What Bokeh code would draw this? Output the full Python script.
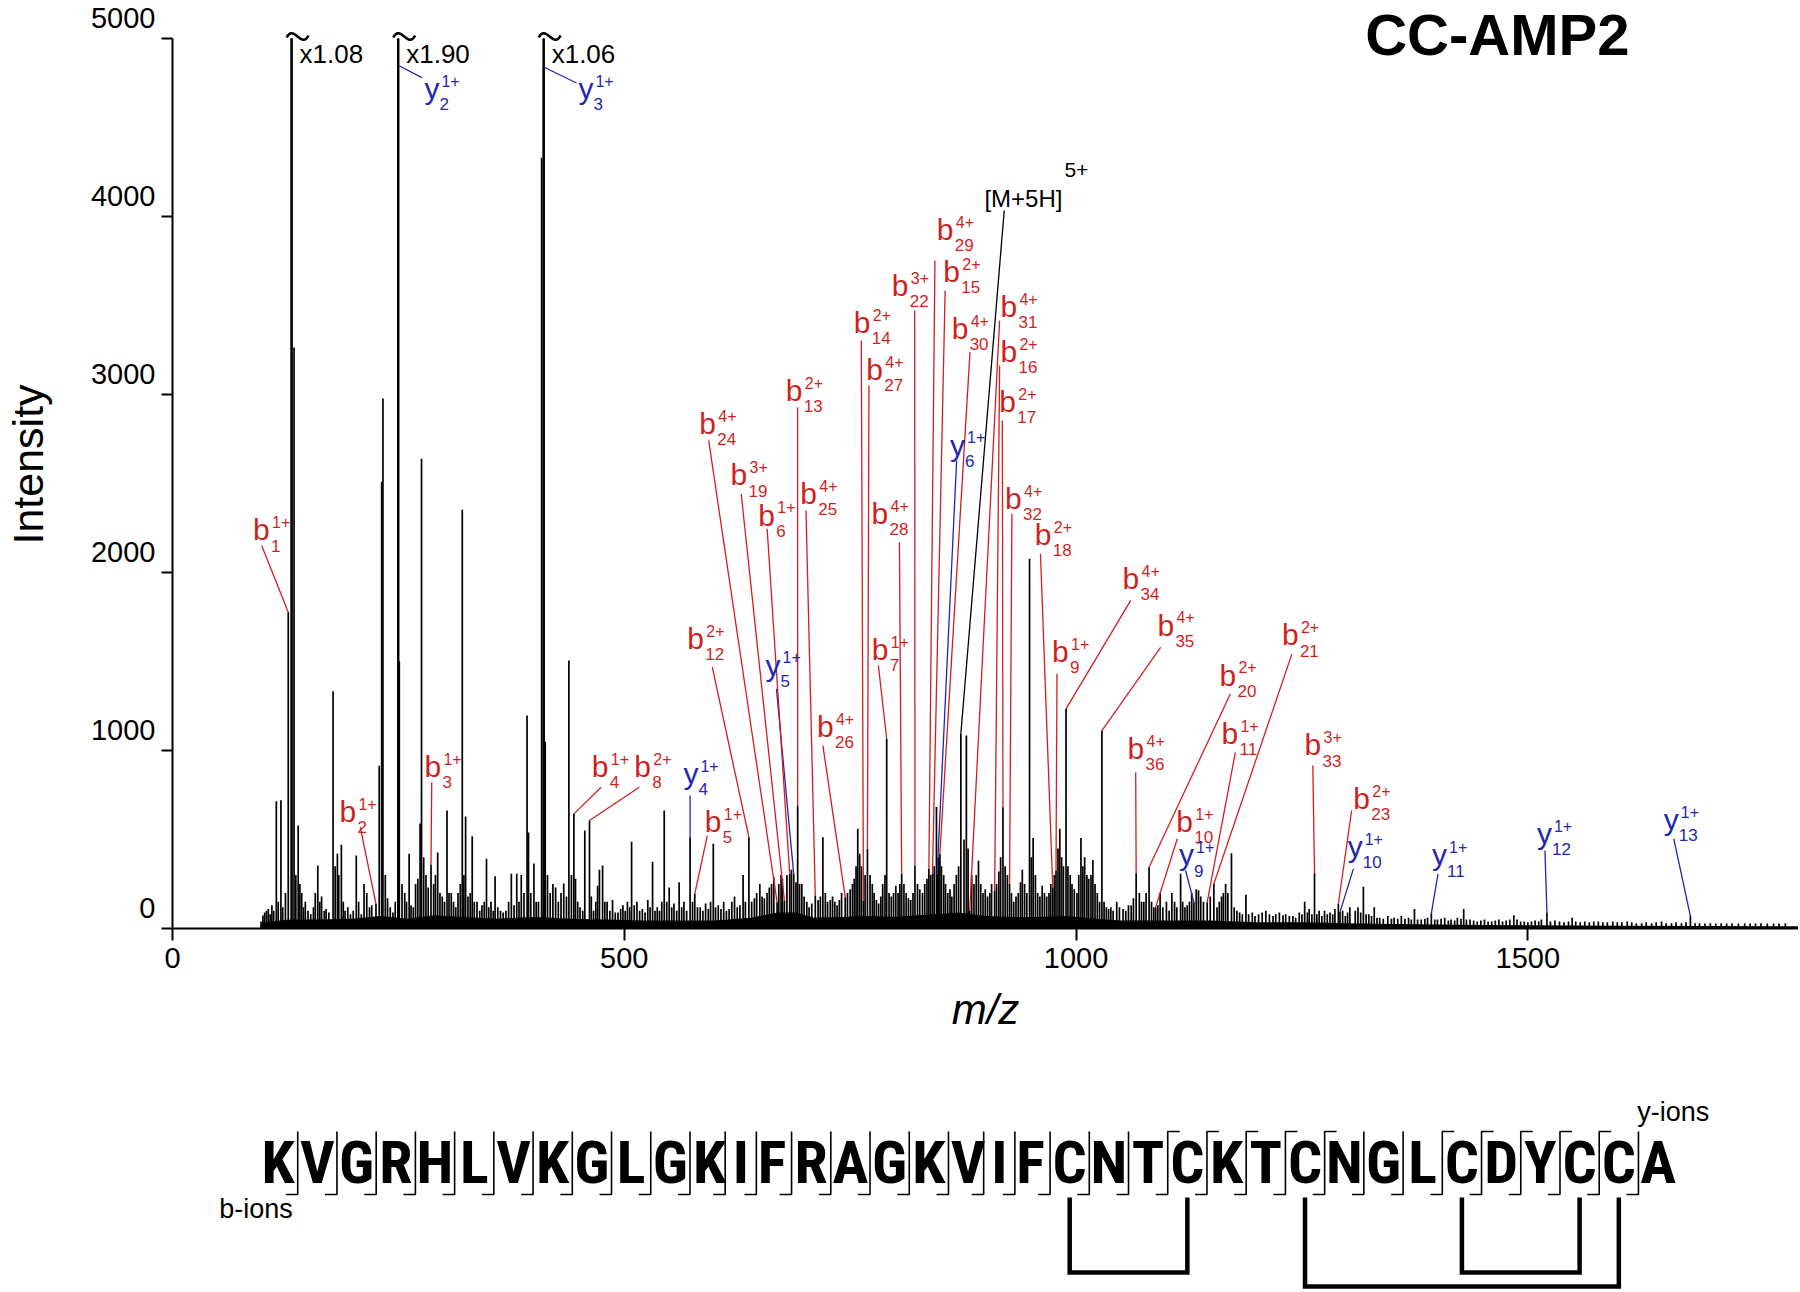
import subprocess
from bokeh.plotting import figure
from bokeh.models import Range1d, LinearAxis, FixedTicker, ColumnDataSource
from bokeh.layouts import column
from bokeh.core.properties import value
from bokeh.embed import file_html
from bokeh.resources import INLINE

# ------------------------------------------------------------------ data
x_ticks = [0, 500, 1000, 1500]
y_ticks = [0, 1000, 2000, 3000, 4000, 5000]
CLIP = 5000  # peaks above this are drawn broken with a scale factor

mz_a = [98, 100.1, 102, 104, 106, 108, 110, 112, 114.9, 117, 120.0, 122, 125, 131.8, 134.5, 136.5, 139.1, 141, 143, 145,
        147, 150, 153, 156, 158, 160.8, 163, 165, 168, 170, 173, 177.7, 180, 182.5, 184, 186.9, 189, 191, 194, 197,
        200, 203.4, 206, 209, 212, 215, 218, 220.5, 228.8, 231.5, 232.9, 235.5, 238, 241, 244, 246.5, 249.8, 251.0, 254, 257,
        259, 261.9, 264, 266.5, 269, 271.5, 274, 275.6, 278, 280.5, 283, 289, 291, 293.5, 296, 298.5]
int_a = [40, 73, 90, 100, 110, 80, 130, 100, 715, 150, 720, 120, 200, 5400, 3264, 300, 578, 250, 200, 120,
         150, 100, 80, 120, 200, 354, 150, 180, 100, 110, 90, 1333, 350, 420, 300, 470, 150, 100, 120, 80,
         100, 410, 150, 80, 250, 200, 120, 130, 915, 2510, 2977, 300, 170, 120, 90, 150, 9500, 1502, 250, 200,
         150, 420, 130, 120, 250, 280, 590, 2639, 400, 300, 230, 250, 300, 427, 200, 180]

mz_b = [301, 303.8, 306, 308.5, 311, 313.5, 316, 318.5, 320.7, 322.5, 324.4, 327, 329.5, 331.7, 334, 337, 340, 342.5, 345, 347.5,
        350, 352.5, 355, 357, 360, 363, 366, 369, 372, 375, 378, 381, 383.5, 386, 389, 392.4, 394, 396.5, 400, 402.5,
        405, 408.5, 410.8, 412.5, 415, 418, 421, 424, 427, 430, 433, 436, 438.7, 441.5, 446, 448.5, 451, 454, 456.3, 463.5,
        466, 468.5, 470.5, 472.5, 476, 478.5, 481, 484, 487, 490, 493, 496, 498.5, 501, 503.5, 506, 508.1, 511, 514, 517,
        520, 523, 526, 528.5, 531.3, 534, 536.5, 539, 541.5, 544.2, 547]
int_b = [150, 663, 200, 200, 150, 120, 200, 250, 2352, 300, 629, 180, 200, 518, 150, 150, 100, 130, 150, 392,
         120, 150, 100, 294, 120, 100, 90, 100, 150, 307, 130, 307, 150, 300, 200, 1196, 540, 200, 365, 150,
         150, 4330, 5300, 1050, 300, 200, 250, 230, 150, 200, 253, 180, 1506, 300, 280, 150, 120, 100, 551, 180,
         100, 150, 240, 330, 354, 150, 150, 100, 160, 90, 90, 110, 130, 100, 150, 120, 487, 130, 150, 100,
         110, 90, 160, 120, 375, 100, 120, 100, 150, 663, 150]

mz_c = [549.7, 552.5, 555, 558, 560.7, 563.5, 566, 569, 575.5, 581, 584, 587, 590, 593, 595.5, 598.5, 601, 604, 607, 610,
        613, 616, 619, 622, 625, 628, 631.5, 634, 641, 644, 646.5, 650, 652.5, 655, 658, 660.5, 663, 665.5, 671, 673.5,
        675, 680, 685, 690, 694, 696.5, 699, 702, 704.5, 707.5, 714.5, 717, 719.8, 722.5, 725, 728, 730.5, 733, 735.5, 738,
        740.5, 747, 750, 752.5, 754.5, 756.5, 758.4, 760.5, 762.5, 766.5, 772, 774.5, 776.5, 779, 781.5, 784, 786, 788.5, 793, 795.5,
        798, 800.5]
int_c = [230, 120, 140, 100, 260, 120, 150, 100, 150, 120, 120, 100, 140, 110, 150, 476, 120, 130, 110, 150,
         100, 110, 150, 180, 120, 130, 300, 150, 150, 170, 200, 250, 180, 170, 200, 230, 250, 290, 250, 300,
         280, 300, 330, 260, 250, 250, 180, 150, 120, 140, 160, 180, 513, 200, 150, 160, 180, 150, 130, 160,
         200, 200, 220, 250, 280, 350, 560, 420, 350, 300, 300, 250, 200, 160, 140, 180, 250, 300, 200, 180,
         200, 240]

mz_d = [803, 805, 809.5, 812, 814.5, 817, 819.5, 824.5, 827, 830, 832.5, 835, 839, 843, 845.5, 847.5, 851, 853.5, 855.5, 858,
        860.5, 862.5, 865, 867.5, 870, 876, 878.6, 880.5, 884.5, 887, 889.5, 892, 894.5, 897, 899.5, 902, 904.5, 906.5, 912, 914.5,
        916.5, 921.5, 924, 928.5, 931, 933.5, 936, 938.5, 940.5, 943, 945.5, 948.5, 950.5, 952.5, 955, 957.5, 960, 962.5, 965, 967.5,
        970, 972, 976, 980, 982, 984, 986, 991, 993.5, 995.5, 998, 1001, 1003, 1005.4, 1007.5, 1009.5, 1012, 1014, 1016.5, 1018.6,
        1021, 1023.5, 1026, 1031, 1033.5, 1036, 1038.5, 1041, 1045, 1048, 1052, 1055, 1058, 1061, 1063.5, 1070, 1072.5, 1075, 1077.5, 1083.5,
        1086, 1090.5, 1093, 1096, 1100]
int_d = [200, 250, 250, 200, 170, 160, 200, 250, 220, 200, 250, 280, 300, 350, 682, 400, 350, 300, 250, 200,
         220, 180, 250, 300, 350, 500, 1084, 450, 300, 250, 300, 380, 250, 200, 220, 180, 200, 250, 250, 320,
         400, 350, 300, 200, 150, 180, 200, 260, 330, 250, 200, 2077, 400, 508, 300, 200, 180, 240, 200, 180,
         200, 250, 300, 450, 560, 400, 350, 350, 300, 250, 220, 200, 300, 508, 350, 400, 300, 280, 300, 385,
         250, 200, 150, 150, 120, 110, 120, 100, 150, 120, 110, 100, 130, 130, 170, 200, 150, 150, 200, 150,
         120, 130, 200, 120, 150]

mz_e = [1103, 1106, 1109, 1111.5, 1115.7, 1118, 1120.5, 1123, 1125.5, 1128, 1133, 1135.5, 1138, 1141, 1148.5, 1156, 1158.5, 1161, 1163, 1165.5,
        1168, 1172, 1175, 1178, 1181, 1184, 1188, 1191, 1195, 1198, 1202, 1206, 1210, 1214, 1218, 1221, 1225, 1229, 1232, 1236,
        1240, 1243, 1247, 1250, 1253, 1256, 1258, 1261, 1266.5, 1269, 1272, 1275, 1278, 1281, 1284, 1286.5, 1295, 1298, 1300.5, 1303,
        1309, 1312, 1315, 1318, 1321, 1324, 1327, 1330, 1333, 1336, 1340, 1345, 1349, 1352, 1356, 1360, 1364, 1368, 1371, 1374.5,
        1378, 1382, 1386, 1389, 1397, 1400, 1404, 1408, 1412, 1415, 1419, 1422, 1426, 1429, 1432, 1436, 1440, 1444, 1448, 1452,
        1456, 1460, 1464, 1468, 1472, 1476, 1480, 1484.5, 1488, 1492, 1496, 1500, 1504, 1508, 1512, 1515, 1525, 1530, 1535, 1540,
        1545, 1549, 1553, 1558, 1563, 1568, 1573, 1578, 1583, 1588, 1594, 1599, 1604, 1610, 1615, 1620, 1626, 1631, 1637, 1642,
        1648, 1653, 1659, 1664, 1670, 1675, 1685, 1690, 1696, 1702, 1708, 1714, 1720, 1726, 1733, 1740, 1746, 1752, 1758, 1765,
        1772, 1778, 1785]
int_e = [100, 200, 150, 120, 307, 150, 120, 130, 150, 200, 220, 215, 180, 150, 180, 120, 150, 180, 200, 250,
         200, 423, 120, 100, 90, 80, 190, 80, 90, 70, 80, 90, 100, 80, 70, 80, 90, 75, 80, 70,
         70, 60, 90, 80, 150, 90, 110, 80, 80, 100, 70, 100, 80, 90, 80, 110, 100, 70, 90, 120,
         100, 120, 90, 235, 80, 80, 70, 120, 60, 60, 55, 70, 55, 60, 55, 70, 55, 60, 50, 110,
         50, 50, 55, 60, 50, 50, 55, 60, 45, 50, 45, 60, 55, 110, 50, 50, 45, 40, 45, 50,
         40, 40, 45, 50, 40, 45, 50, 75, 50, 40, 40, 35, 40, 45, 40, 50, 40, 45, 40, 35,
         40, 60, 40, 35, 40, 35, 40, 40, 35, 35, 40, 35, 35, 40, 35, 30, 30, 35, 30, 35,
         40, 30, 30, 35, 30, 35, 30, 30, 28, 30, 28, 30, 28, 30, 28, 30, 28, 28, 30, 28,
         28, 28, 30]

# baseline noise floor (m/z, intensity)
grass_mz = [97, 100, 130, 160, 200, 230, 260, 290, 320, 360, 400, 440, 480, 520, 560, 600, 640, 670, 690, 710,
            740, 770, 800, 840, 870, 900, 930, 960, 990, 1020, 1050, 1080, 1110, 1150, 1200, 1250, 1300, 1350, 1400, 1450,
            1500, 1600, 1700, 1800]
grass_int = [0, 35, 50, 50, 55, 70, 55, 75, 65, 55, 65, 55, 50, 45, 45, 45, 60, 90, 90, 60,
             65, 70, 65, 80, 90, 70, 65, 65, 70, 55, 45, 45, 45, 45, 35, 35, 30, 25, 22, 20,
             18, 16, 14, 12]

# annotated fragment ions
ion_series = ["b", "b", "b", "b", "b", "y", "b", "b", "y", "b", "b", "b", "b", "b", "b", "b", "b", "b", "b", "b",
              "b", "b", "b", "y", "b", "b", "b", "b", "b", "b", "b", "b", "b", "b", "b", "y", "b", "b", "b", "b",
              "y", "y", "y", "y", "y", "y"]
ion_number = [1, 2, 3, 4, 8, 4, 5, 12, 5, 24, 19, 6, 13, 25, 26, 14, 27, 28, 7, 22,
              29, 15, 30, 6, 31, 16, 17, 32, 18, 9, 34, 35, 36, 20, 10, 9, 11, 21, 33, 23,
              10, 11, 12, 13, 2, 3]
ion_charge = [1, 1, 1, 1, 2, 1, 1, 2, 1, 4, 3, 1, 2, 4, 4, 2, 4, 4, 1, 3,
              4, 2, 4, 1, 4, 2, 2, 4, 2, 1, 4, 4, 4, 2, 1, 1, 1, 2, 3, 2,
              1, 1, 1, 1, 1, 1]
ion_mz = [128.1, 225.2, 286.1, 444.2, 461.5, 572.8, 578.0, 637.9, 687.5, 669.1, 677.2, 683.1, 691.9, 711.4, 744.5, 764.7, 769.1, 807.0, 790.4, 821.7,
          837.1, 841.1, 849.3, 846.3, 882.3, 909.9, 919.1, 926.4, 974.2, 977.8, 988.9, 1028.6, 1066.5, 1080.8, 1088.1, 1130.4, 1145.1, 1152.5, 1263.9, 1290.3,
          1292.1, 1393.2, 1521.1, 1679.9, 249.8, 410.8]
ion_int = [1777, 139, 360, 644, 607, 513, 195, 513, 307, 148, 157, 307, 691, 185, 176, 157, 448, 307, 1066, 354,
           335, 307, 420, 307, 101, 213, 681, 251, 232, 326, 1234, 1112, 310, 344, 120, 148, 148, 251, 311, 139,
           92, 85, 90, 70, 4850, 4840]
# label anchor (left / baseline of the ion letter) and leader start, in data units
label_mz = [89.1, 184.7, 278.8, 464.0, 511.1, 565.4, 589.1, 569.8, 656.3, 583.0, 617.6, 648.4, 678.7, 694.8, 713.2, 753.9, 767.8, 773.7, 773.8, 796.0,
            845.9, 853.0, 862.3, 860.6, 916.3, 916.3, 915.1, 921.4, 954.4, 973.4, 1051.4, 1090.0, 1056.9, 1158.7, 1110.9, 1113.9, 1160.9, 1227.8, 1252.8, 1306.9,
            1300.6, 1394.0, 1510.1, 1650.5, 278.8, 449.3]
label_int = [2180, 597, 850, 850, 850, 813, 541, 1571, 1421, 2779, 2489, 2264, 2962, 2386, 1075, 3344, 3079, 2270, 1506, 3551,
             3869, 3631, 3313, 2657, 3434, 3181, 2900, 2358, 2152, 1496, 1908, 1646, 953, 1365, 541, 354, 1038, 1590, 972, 672,
             401, 354, 476, 551, 4661, 4661]
lead_mz = [98.7, 207.8, 286.9, 474.4, 516.6, 572.8, 591.9, 597.4, 668.4, 593.4, 629.4, 658.1, 691.8, 701.1, 719.8, 762.3, 770.8, 804.5, 781.2, 821.4,
           843.8, 855.1, 882.6, 867.8, 915.4, 915.4, 918.4, 929.0, 960.6, 978.9, 1060.5, 1093.6, 1066.0, 1170.8, 1112.0, 1121.2, 1176.3, 1238.9, 1262.0, 1305.0,
           1306.9, 1400.6, 1518.9, 1661.5, 275.9, 447.2]
lead_int = [2152, 569, 822, 794, 794, 747, 522, 1468, 1347, 2742, 2442, 2246, 2929, 2348, 1028, 3303, 3051, 2170, 1478, 3472,
            3753, 3584, 3238, 2629, 3416, 3163, 2854, 2330, 2105, 1431, 1843, 1580, 878, 1319, 504, 326, 990, 1543, 916, 663,
            335, 307, 438, 504, 4780, 4750]

# precursor ion
prec_text, prec_charge = "[M+5H]", "5+"
prec_mz, prec_int = 872.5, 1094
prec_label_mz, prec_label_int = 898.6, 4052
prec_lead_mz, prec_lead_int = 920.5, 4034

title_text = "CC-AMP2"
title_mz, title_int = 1320.0, 4910

# peptide sequence
sequence = "KVGRHLVKGLGKIFRAGKVIFCNTCKTCNGLCDYCCA"
b_observed = list(range(1, 37))
y_observed = [2, 3, 4, 5, 6, 9, 10, 11, 12, 13]
disulfide_pairs = [(22, 25), (28, 36), (32, 35)]

# ------------------------------------------------------------------ styling / layout
FONT = "Liberation Sans"
RED = "#d01f1f"
BLUE = "#2226b0"


def installed_families():
    try:
        out = subprocess.run(["fc-list", ":", "family"], capture_output=True, text=True, timeout=20).stdout
    except Exception:
        return set()
    fams = set()
    for line in out.splitlines():
        for f in line.split(","):
            fams.add(f.strip())
    return fams


_fams = installed_families()
SEQ_FONT, SEQ_SIZE = FONT, 48
for _name, _size in [("Noto Sans Condensed", 62), ("Noto Sans SemiCondensed", 56), ("Noto Sans ExtraCondensed", 64),
                     ("Liberation Sans Narrow", 58), ("Roboto Condensed", 60), ("DejaVu Sans Condensed", 52)]:
    if _name in _fams:
        SEQ_FONT, SEQ_SIZE = _name, _size
        break

MID = -0.35  # shift (in em) from an alphabetic baseline to the middle of the text

W = 1798
BORDER_L = 166
BORDER_B = 130
FRAME_H = 928
H_SPEC = FRAME_H + BORDER_B
PX_PER_MZ = 0.9069
PX_PER_INT = 0.178
X_END = (W - BORDER_L) / PX_PER_MZ
Y_END = FRAME_H / PX_PER_INT
MZ_PX = 1 / PX_PER_MZ
INT_PX = 1 / PX_PER_INT
LABEL_SHIFT = 21 * INT_PX

p = figure(width=W, height=H_SPEC, x_range=Range1d(0, X_END), y_range=Range1d(0, Y_END),
           output_backend="svg", toolbar_location=None,
           min_border_left=BORDER_L, min_border_right=0, min_border_top=0, min_border_bottom=BORDER_B)
p.outline_line_color = None
p.xgrid.visible = False
p.ygrid.visible = False

xa = p.xaxis[0]
xa.ticker = FixedTicker(ticks=x_ticks)
xa.axis_label = "m/z"
xa.axis_label_text_font = FONT
xa.axis_label_text_font_style = "italic"
xa.axis_label_text_font_size = "42px"
xa.axis_label_text_color = "black"
xa.axis_label_standoff = 15
xa.major_label_text_font = FONT
xa.major_label_text_font_size = "29px"
xa.major_label_text_color = "black"
xa.major_label_standoff = 7
xa.major_tick_out = 12
xa.major_tick_in = 0
xa.minor_tick_out = 0
xa.minor_tick_in = 0
xa.axis_line_width = 2
xa.major_tick_line_width = 2

ya = p.yaxis[0]
ya.ticker = FixedTicker(ticks=y_ticks)
ya.major_label_overrides = {t: "" for t in y_ticks}
ya.major_label_standoff = 0
ya.major_tick_out = 11
ya.major_tick_in = 0
ya.minor_tick_out = 0
ya.minor_tick_in = 0
ya.axis_line_width = 2
ya.major_tick_line_width = 2
ya.bounds = (0, CLIP)

p.extra_y_ranges = {"labels": Range1d(-LABEL_SHIFT, Y_END - LABEL_SHIFT)}
yl = LinearAxis(y_range_name="labels", ticker=FixedTicker(ticks=y_ticks),
                axis_line_color=None, major_tick_line_color=None, minor_tick_line_color=None,
                major_tick_out=0, major_tick_in=0, minor_tick_out=0, minor_tick_in=0,
                major_label_standoff=6, major_label_text_font=FONT, major_label_text_font_size="29px",
                major_label_text_color="black",
                axis_label="Intensity", axis_label_text_font=FONT, axis_label_text_font_size="43px",
                axis_label_text_font_style="normal", axis_label_text_color="black", axis_label_standoff=36)
p.add_layout(yl, "left")

# noise floor
p.varea(x=grass_mz, y1=[0] * len(grass_mz), y2=grass_int, fill_color="black")

# stick spectrum
stick_mz = mz_a + mz_b + mz_c + mz_d + mz_e + ion_mz + [prec_mz]
stick_int = int_a + int_b + int_c + int_d + int_e + ion_int + [prec_int]
p.segment(x0=stick_mz, y0=[0] * len(stick_mz), x1=stick_mz, y1=[min(v, CLIP) for v in stick_int],
          line_color="black", line_width=1.7)

# broken (scaled) peaks
tr_mz = [m for m, v in zip(stick_mz, stick_int) if v > CLIP]
tr_val = [v for v in stick_int if v > CLIP]
k = len(tr_mz)
p.segment(x0=tr_mz, y0=[0] * k, x1=tr_mz, y1=[CLIP] * k, line_color="black", line_width=2.4)
base = CLIP + 2 * INT_PX
p.bezier(x0=[m - 5 * MZ_PX for m in tr_mz], y0=[base - 1 * INT_PX] * k,
         x1=[m + 17 * MZ_PX for m in tr_mz], y1=[base + 1 * INT_PX] * k,
         cx0=[m + 2 * MZ_PX for m in tr_mz], cy0=[base + 13 * INT_PX] * k,
         cx1=[m + 10 * MZ_PX for m in tr_mz], cy1=[base - 13 * INT_PX] * k,
         line_color="black", line_width=2.5)
p.text(x=tr_mz, y=[CLIP] * k, text=[f"x{v / CLIP:.2f}" for v in tr_val], x_offset=8, y_offset=25 + MID * 26,
       text_font=value(FONT), text_font_size="26px", text_color="black",
       text_baseline="middle", text_align="left")

# ion annotations
src = ColumnDataSource(dict(
    series=ion_series, num=[str(n) for n in ion_number], chg=[f"{c}+" for c in ion_charge],
    lx=label_mz, ly=label_int, sx=lead_mz, sy=lead_int, px=ion_mz, py=ion_int,
    ion_color=[RED if s == "b" else BLUE for s in ion_series],
    sub_dx=[18 if s == "b" else 15 for s in ion_series],
    sup_dx=[19 if s == "b" else 17 for s in ion_series]))
p.segment(x0="sx", y0="sy", x1="px", y1="py", source=src, line_color="ion_color", line_width=1.3)
p.text(x="lx", y="ly", text="series", source=src, y_offset=MID * 30, text_color="ion_color",
       text_font=value(FONT), text_font_size="30px", text_baseline="middle", text_align="left")
p.text(x="lx", y="ly", text="num", source=src, x_offset="sub_dx", y_offset=11 + MID * 17, text_color="ion_color",
       text_font=value(FONT), text_font_size="17px", text_baseline="middle", text_align="left")
p.text(x="lx", y="ly", text="chg", source=src, x_offset="sup_dx", y_offset=-12.5 + MID * 16, text_color="ion_color",
       text_font=value(FONT), text_font_size="16px", text_baseline="middle", text_align="left")

# precursor annotation
p.segment(x0=[prec_lead_mz], y0=[prec_lead_int], x1=[prec_mz], y1=[prec_int], line_color="black", line_width=1.3)
p.text(x=[prec_label_mz], y=[prec_label_int], text=[prec_text], y_offset=MID * 24,
       text_font=value(FONT), text_font_size="24px", text_color="black",
       text_baseline="middle", text_align="left")
p.text(x=[prec_label_mz], y=[prec_label_int], text=[prec_charge], x_offset=80, y_offset=-30 + MID * 21,
       text_font=value(FONT), text_font_size="21px", text_color="black",
       text_baseline="middle", text_align="left")

# title
p.text(x=[title_mz], y=[title_int], text=[title_text], y_offset=MID * 58,
       text_font=value(FONT), text_font_size="58px", text_font_style="bold", text_color="black",
       text_baseline="middle", text_align="left")

# ------------------------------------------------------------------ sequence panel
H_SEQ = 1290 - H_SPEC
CELL_PX = 39.37
FIRST_PX = 106  # first residue centre, from the frame's left edge
rel_w = [0.59 if r == "I" else 1.0 for r in sequence]
centers = [0.0]
for i in range(1, len(sequence)):
    centers.append(centers[-1] + (rel_w[i - 1] + rel_w[i]) / 2)

q = figure(width=W, height=H_SEQ,
           x_range=Range1d(-FIRST_PX / CELL_PX, (W - BORDER_L - FIRST_PX) / CELL_PX),
           y_range=Range1d(H_SEQ, 0), output_backend="svg", toolbar_location=None,
           x_axis_location=None, y_axis_location=None,
           min_border_left=BORDER_L, min_border_right=0, min_border_top=0, min_border_bottom=0)
q.outline_line_color = None
q.grid.visible = False

LETTER_MID = 104
TOP, BOT = 73, 136
TICK = 12 / CELL_PX
q.text(x=centers, y=[LETTER_MID] * len(sequence), text=list(sequence), text_align="center",
       text_baseline="middle", text_font=value(SEQ_FONT), text_font_style="bold",
       text_font_size=f"{SEQ_SIZE}px", text_color="black")

sep_x, sep_y = [], []
n_res = len(sequence)
for i in range(n_res - 1):
    x = (centers[i] + centers[i + 1]) / 2
    px_, py_ = [], []
    if (i + 1) in b_observed:
        px_ += [x - TICK, x]
        py_ += [BOT, BOT]
    else:
        px_ += [x]
        py_ += [BOT]
    px_.append(x)
    py_.append(TOP)
    if (n_res - 1 - i) in y_observed:
        px_.append(x + TICK)
        py_.append(TOP)
    sep_x.append(px_)
    sep_y.append(py_)
q.multi_line(sep_x, sep_y, line_color="black", line_width=1.6)

br_x, br_y = [], []
for a, b in disulfide_pairs:
    inner = sum(1 for c, d in disulfide_pairs if a < c and d < b)
    bottom = 214 + 14 * inner
    xa_, xb_ = centers[a - 1], centers[b - 1]
    br_x.append([xa_, xa_, xb_, xb_])
    br_y.append([139, bottom, bottom, 139])
q.multi_line(br_x, br_y, line_color="black", line_width=4.5, line_join="miter")

q.text(x=[centers[0] - 1.5], y=[150], text=["b-ions"], text_font=value(FONT), text_font_size="27px",
       text_color="black", text_baseline="middle", text_align="left")
q.text(x=[centers[-1] - 0.53], y=[53], text=["y-ions"], text_font=value(FONT), text_font_size="27px",
       text_color="black", text_baseline="middle", text_align="left")

layout = column(p, q, spacing=0)
open("out.html", "w").write(file_html(layout, INLINE))
